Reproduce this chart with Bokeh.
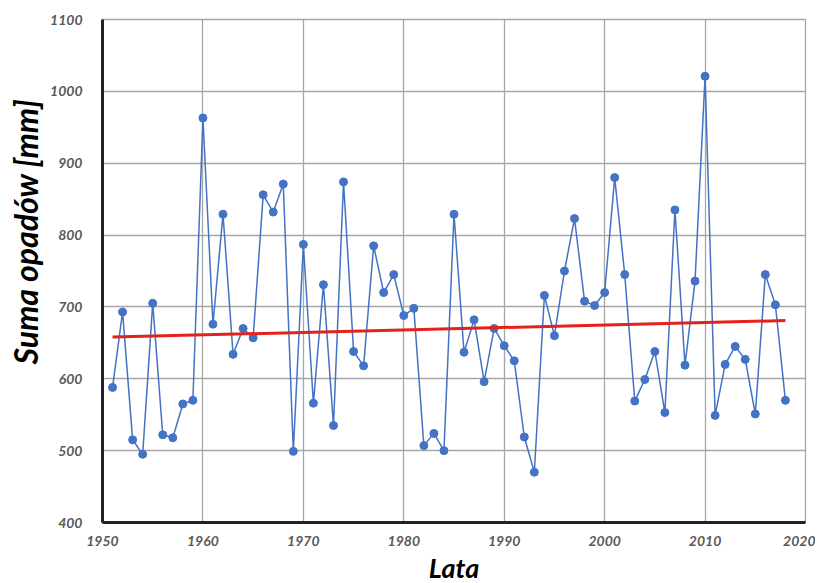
from bokeh.plotting import figure
from bokeh.models import Range1d, FixedTicker, Title
from bokeh.embed import file_html
from bokeh.resources import INLINE

years = list(range(1951, 2019))
precip = [588, 693, 515, 495, 705, 522, 518, 565, 570, 963,
          676, 829, 634, 670, 657, 856, 832, 871, 499, 787,
          566, 731, 535, 874, 638, 618, 785, 720, 745, 688,
          698, 507, 524, 500, 829, 637, 682, 596, 670, 646,
          625, 519, 470, 716, 660, 750, 823, 708, 702, 720,
          880, 745, 569, 599, 638, 553, 835, 619, 736, 1021,
          549, 620, 645, 627, 551, 745, 703, 570]
trend_years = [1951, 2018]
trend_values = [658, 681]
x_ticks = [1950, 1960, 1970, 1980, 1990, 2000, 2010, 2020]
y_ticks = [400, 500, 600, 700, 800, 900, 1000, 1100]

FONT = "Lato"

p = figure(frame_width=703, frame_height=503, output_backend="svg",
           toolbar_location=None, x_range=Range1d(1950, 2020),
           y_range=Range1d(400, 1100),
           min_border_left=102, min_border_right=10, min_border_top=19,
           min_border_bottom=40)
p.background_fill_color = "white"
p.border_fill_color = "white"
p.outline_line_color = "#a6a6a6"
p.outline_line_width = 1.3

p.xaxis.ticker = FixedTicker(ticks=x_ticks)
p.yaxis.ticker = FixedTicker(ticks=y_ticks)
for ax in (p.xaxis[0], p.yaxis[0]):
    ax.axis_line_color = "#222222"
    ax.axis_line_width = 3
    ax.major_tick_line_color = None
    ax.minor_tick_line_color = None
    ax.major_label_text_font = FONT
    ax.major_label_text_font_style = "bold italic"
    ax.major_label_text_font_size = "14px"
    ax.major_label_text_color = "#595959"
p.xaxis.major_label_standoff = 7
p.yaxis.major_label_standoff = 14

p.grid.grid_line_color = "#a6a6a6"
p.grid.grid_line_width = 1.3

p.line(years, precip, line_color="#4472C4", line_width=1.5)
p.scatter(years, precip, size=8, fill_color="#4472C4", line_color="#4472C4")
p.line(trend_years, trend_values, line_color="#E3231B", line_width=3)

ytitle = Title(text="Suma opadów [mm]", align="right", offset=79,
               text_font=FONT, text_font_style="bold italic",
               text_font_size="32px", text_color="black", standoff=5)
xtitle = Title(text="Lata", align="center", text_font=FONT,
               text_font_style="bold italic", text_font_size="27px",
               text_color="black", standoff=0)
p.add_layout(ytitle, "left")
p.add_layout(xtitle, "below")

open("out.html", "w").write(file_html(p, INLINE))
